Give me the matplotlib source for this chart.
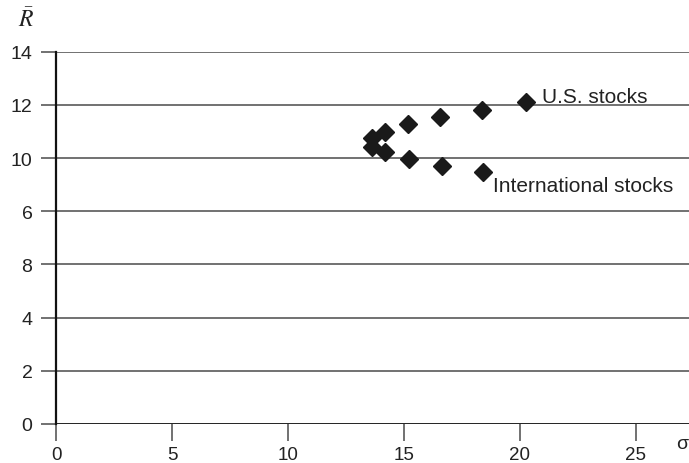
"""
Risco x retorno: ações americanas vs internacionais.
"""
import matplotlib.pyplot as plt

plt.rcParams.update({
    'font.family': 'Liberation Sans',
    'font.size': 14,
    'mathtext.fontset': 'stix',
})

# Dados
us_sigma = [13.63, 14.18, 15.19, 16.56, 18.36, 20.25]
us_ret = [10.75, 10.99, 11.27, 11.54, 11.82, 12.12]
intl_sigma = [13.63, 14.18, 15.20, 16.63, 18.42]
intl_ret = [10.42, 10.21, 9.96, 9.69, 9.48]

x_ticks = [0, 5, 10, 15, 20, 25]
y_ticks = [0, 2, 4, 6, 8, 10, 12, 14]
y_tick_labels = ['0', '2', '4', '8', '6', '10', '12', '14']

W, H = 689, 464
fig = plt.figure(figsize=(W / 100, H / 100), dpi=100)
ax = fig.add_axes([56 / W, 1 - 425 / H, 1 - 56 / W, (425 - 52.7) / H])

ax.set_xlim(0, (W - 56) / 23.2)
ax.set_ylim(0, 14)

# linhas horizontais de grade
for y in y_ticks[1:]:
    ax.axhline(y, color='#4a4a4a', lw=1.1, zorder=1)
ax.axhline(0, color='#222222', lw=1.4, zorder=1)

ax.plot(us_sigma, us_ret, 'D', color='#1a1a1a', markersize=9, zorder=3)
ax.plot(intl_sigma, intl_ret, 'D', color='#1a1a1a', markersize=9, zorder=3)

ax.text(20.95, 12.3, 'U.S. stocks', fontsize=15, color='#222222', va='center', ha='left')
ax.text(18.85, 8.97, 'International stocks', fontsize=15, color='#222222', va='center', ha='left')

for s in ['top', 'right', 'bottom']:
    ax.spines[s].set_visible(False)
ax.spines['left'].set_linewidth(1.6)
ax.spines['left'].set_color('#111111')

ax.set_xticks(x_ticks)
ax.set_yticks(y_ticks)
ax.set_yticklabels(y_tick_labels)
ax.tick_params(axis='x', direction='out', length=12, width=1.1, color='#4a4a4a',
               pad=4, labelcolor='#222222', labelsize=13.5)
ax.tick_params(axis='y', direction='out', length=11, width=1.1, color='#4a4a4a',
               pad=6, labelcolor='#222222', labelsize=14)

# rótulos dos eixos
fig.text(682 / W, 1 - 445 / H, 'σ', fontsize=14, color='#222222', ha='center', va='center')
fig.text(26 / W, 1 - 20 / H, r'$\bar{R}$', fontsize=17, color='#222222', ha='center', va='center')

fig.savefig('out.png', dpi=100)
